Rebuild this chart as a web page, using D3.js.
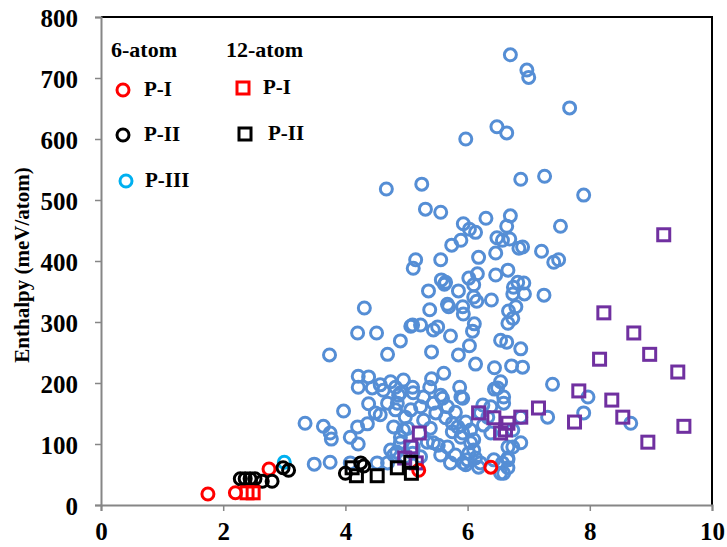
<!DOCTYPE html>
<html lang="en">

<head>
	<meta charset="utf-8">
	<title>Enthalpy scatter</title>
	<style>
		body {
			margin: 0;
			background: #fff;
		}

		svg text {
			font-family: "Liberation Serif", "Times New Roman", serif;
		}

		.tick text {
			font-weight: bold;
			font-size: 25px;
			fill: #000;
		}

		.legend text {
			font-weight: bold;
			fill: #000;
		}
	</style>
</head>

<body>
	<svg></svg>

	<script src="https://cdnjs.cloudflare.com/ajax/libs/d3/7.8.5/d3.min.js"></script>
	<script>
		// x = ?, y = Enthalpy (meV/atom)
		var otherPts = [
			[6.70, 738], [6.97, 713], [7.00, 701], [7.67, 651], [6.48, 620], [6.64, 610], [5.97, 600],
			[6.87, 534], [7.26, 539], [7.90, 508], [4.67, 518], [5.25, 526], [5.31, 485], [5.56, 480],
			[5.93, 461], [6.03, 452], [6.13, 447], [6.30, 470], [6.70, 474], [6.64, 457], [7.52, 457],
			[5.74, 426], [5.89, 434], [6.48, 438], [6.57, 434], [6.69, 436], [6.84, 421], [6.18, 406],
			[6.46, 413], [7.21, 416], [7.41, 398], [7.49, 402], [5.15, 402], [5.11, 388], [5.56, 402],
			[5.57, 369], [5.62, 362], [6.02, 372], [6.16, 379], [6.10, 361], [5.85, 351], [5.36, 351],
			[6.46, 377], [6.66, 385], [6.82, 365], [6.75, 357], [6.93, 346], [6.74, 346], [7.25, 344],
			[6.10, 341], [6.15, 334], [6.39, 336], [5.67, 329], [5.38, 320], [5.92, 325], [5.93, 313],
			[6.67, 318], [6.79, 325], [6.74, 306], [6.66, 298], [4.31, 323], [5.07, 293], [5.23, 295],
			[5.51, 292], [5.44, 287], [5.72, 277], [6.11, 297], [6.08, 285], [4.20, 282], [4.51, 282],
			[4.90, 269], [6.54, 270], [6.64, 267], [6.03, 261], [6.87, 256], [3.74, 246], [4.69, 247],
			[5.41, 251], [5.85, 246], [6.13, 231], [6.44, 225], [6.72, 228], [6.90, 226], [4.21, 211],
			[4.38, 210], [4.21, 193], [4.44, 192], [4.74, 202], [4.95, 205], [4.82, 193], [5.41, 207],
			[5.61, 216], [5.87, 193], [6.54, 202], [6.44, 190], [7.39, 198], [5.11, 184], [5.38, 193],
			[5.56, 180], [4.62, 188], [4.90, 184], [4.85, 167], [4.38, 166], [4.57, 148], [4.49, 151],
			[3.97, 154], [3.34, 134], [3.64, 129], [3.75, 118], [3.77, 108], [4.20, 128], [4.36, 133],
			[4.08, 111], [4.21, 100], [4.79, 128], [4.95, 123], [3.49, 67], [3.75, 70], [4.08, 69],
			[4.52, 69], [4.69, 69], [4.84, 87], [4.98, 79], [5.10, 295], [4.57, 197], [5.10, 193],
			[6.59, 177], [4.87, 180], [5.28, 177], [5.59, 175], [5.92, 175], [5.44, 167], [5.67, 161],
			[5.23, 161], [4.69, 167], [4.82, 156], [5.07, 156], [5.48, 151], [5.80, 152], [6.25, 164],
			[6.38, 161], [6.59, 167], [4.98, 144], [5.28, 139], [5.64, 143], [5.75, 134], [5.97, 136],
			[6.21, 151], [5.02, 126], [5.39, 126], [5.84, 128], [6.05, 123], [6.26, 131], [6.74, 123],
			[4.90, 111], [5.34, 103], [5.52, 98], [5.89, 111], [6.10, 107], [6.38, 118], [6.87, 102],
			[4.74, 90], [4.79, 82], [5.10, 85], [5.80, 82], [6.02, 85], [6.13, 77], [6.74, 95],
			[6.66, 77], [5.93, 69], [6.18, 62], [6.57, 69], [6.66, 61], [6.59, 52], [5.75, 120],
			[5.64, 365], [5.69, 325], [6.49, 192], [7.97, 177], [7.31, 144], [7.90, 151], [8.67, 134],
			[6.33, 144], [6.87, 144], [6.66, 95], [6.66, 74], [5.97, 66], [5.92, 118], [6.05, 102],
			[5.89, 177], [6.90, 423], [6.92, 364], [4.90, 102], [5.11, 95], [5.23, 79], [5.44, 102],
			[5.56, 82], [5.67, 95], [5.72, 69], [6.00, 74], [6.10, 90], [6.21, 69], [6.43, 74], [6.54, 52]
		];

		var twelveOther = [
			[9.21, 443], [8.23, 315], [8.72, 282], [8.16, 239], [8.98, 247], [9.44, 218], [7.82, 187],
			[8.36, 172], [8.54, 144], [7.75, 136], [8.95, 103], [9.54, 129], [7.16, 159], [6.87, 144],
			[6.66, 134], [6.62, 123], [6.54, 118], [6.43, 143], [6.18, 151], [5.21, 118], [5.07, 95],
			[4.97, 77], [5.16, 69]
		];

		var sixP1 = [[1.75, 18], [2.20, 20], [2.75, 59], [5.20, 57], [6.38, 62]];
		var sixP2 = [
			[2.28, 43], [2.36, 43], [2.44, 43], [2.52, 43], [2.64, 39], [2.80, 39],
			[2.98, 61], [3.07, 57], [4.00, 52], [4.25, 69], [4.30, 64]
		];
		var sixP3 = [[3.00, 70]];
		var twelveP1 = [[2.39, 20], [2.49, 20]];
		var twelveP2 = [[4.11, 61], [4.18, 48], [4.52, 48], [4.85, 61], [5.07, 70], [5.08, 52]];

		var xTicks = [0, 2, 4, 6, 8, 10];
		var yTicks = [0, 100, 200, 300, 400, 500, 600, 700, 800];

		var width = 727,
			height = 547;
		var margin = { top: 17, right: 15, bottom: 42, left: 101 };

		var svg = d3.select("svg")
			.attr("width", width)
			.attr("height", height);

		var x = d3.scaleLinear().domain([0, 10]).range([margin.left, width - margin.right]);
		var y = d3.scaleLinear().domain([0, 800]).range([height - margin.bottom, margin.top]);

		// top and right frame
		svg.append("path")
			.attr("d", "M" + x(0) + "," + y(800) + "H" + x(10) + "V" + y(0))
			.attr("fill", "none")
			.attr("stroke", "#000")
			.attr("stroke-width", 2);

		var xAxis = svg.append("g")
			.attr("transform", "translate(0," + y(0) + ")")
			.call(d3.axisBottom(x).tickValues(xTicks).tickSize(6).tickPadding(11));

		var yAxis = svg.append("g")
			.attr("transform", "translate(" + x(0) + ",0)")
			.call(d3.axisLeft(y).tickValues(yTicks).tickSize(6).tickPadding(17));

		[xAxis, yAxis].forEach(function(a) {
			a.select(".domain").attr("stroke", "#868686").attr("stroke-width", 2);
			a.selectAll(".tick line").attr("stroke", "#868686").attr("stroke-width", 1.5);
			a.attr("font-family", null).attr("font-size", null);
		});
		yAxis.selectAll(".tick text").attr("dy", "0.38em");

		svg.append("text")
			.attr("transform", "translate(29," + ((y(0) + y(800)) / 2 + 4) + ") rotate(-90)")
			.attr("text-anchor", "middle")
			.attr("font-weight", "bold")
			.attr("font-size", "21px")
			.text("Enthalpy (meV/atom)");

		var R = 6,
			S = 12;

		function circles(data, color) {
			svg.append("g")
				.selectAll("circle")
				.data(data)
				.enter().append("circle")
				.attr("cx", function(d) { return x(d[0]); })
				.attr("cy", function(d) { return y(d[1]); })
				.attr("r", R)
				.attr("fill", "none")
				.attr("stroke", color)
				.attr("stroke-width", 3);
		}

		function squares(data, color) {
			svg.append("g")
				.selectAll("rect")
				.data(data)
				.enter().append("rect")
				.attr("x", function(d) { return x(d[0]) - S / 2; })
				.attr("y", function(d) { return y(d[1]) - S / 2; })
				.attr("width", S)
				.attr("height", S)
				.attr("fill", "none")
				.attr("stroke", color)
				.attr("stroke-width", 3);
		}

		circles(otherPts, "#558ED5");
		squares(twelveOther, "#7030A0");
		circles(sixP1, "#FF0000");
		circles(sixP3, "#00B0F0");
		circles(sixP2, "#000");
		squares(twelveP2, "#000");
		squares(twelveP1, "#FF0000");

		// legend
		var legend = svg.append("g").attr("class", "legend");

		legend.append("text").attr("x", 111).attr("y", 57).attr("font-size", "22px").text("6-atom");
		legend.append("text").attr("x", 226).attr("y", 57).attr("font-size", "22px").text("12-atom");

		var legItems = [
			{ shape: "c", color: "#FF0000", mx: 123, my: 90, tx: 144, label: "P-I" },
			{ shape: "c", color: "#000", mx: 123, my: 135, tx: 144, label: "P-II" },
			{ shape: "c", color: "#00B0F0", mx: 126, my: 181, tx: 145, label: "P-III" },
			{ shape: "s", color: "#FF0000", mx: 243, my: 88, tx: 263, label: "P-I" },
			{ shape: "s", color: "#000", mx: 245, my: 134, tx: 268, label: "P-II" }
		];

		legItems.forEach(function(d) {
			if (d.shape == "c") {
				legend.append("circle")
					.attr("cx", d.mx).attr("cy", d.my).attr("r", R)
					.attr("fill", "none").attr("stroke", d.color).attr("stroke-width", 3);
			} else {
				legend.append("rect")
					.attr("x", d.mx - S / 2).attr("y", d.my - S / 2).attr("width", S).attr("height", S)
					.attr("fill", "none").attr("stroke", d.color).attr("stroke-width", 3);
			}
			legend.append("text")
				.attr("x", d.tx)
				.attr("y", d.my + 6)
				.attr("font-size", "21px")
				.text(d.label);
		});
	</script>
</body>

</html>
